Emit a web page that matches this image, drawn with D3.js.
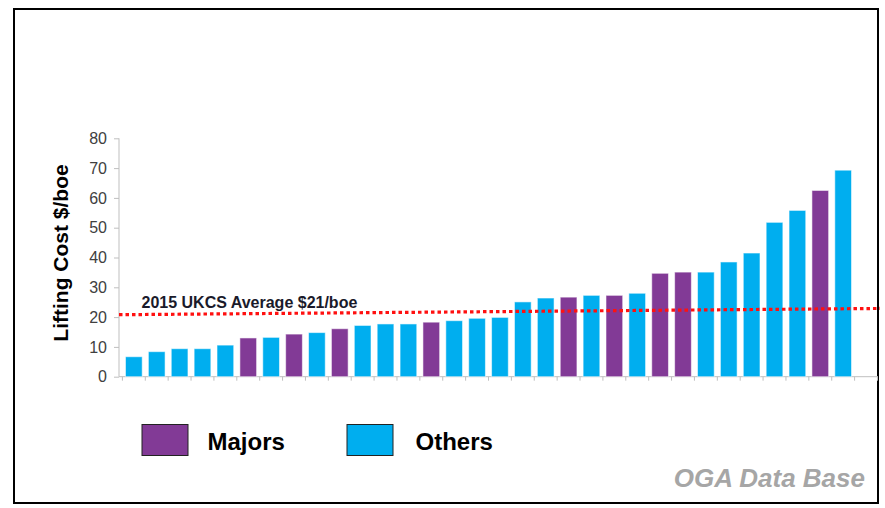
<!DOCTYPE html>
<html>
<head>
<meta charset="utf-8">
<script src="https://cdn.jsdelivr.net/npm/d3@7"></script>
<style>
  html, body { margin: 0; padding: 0; background: #fff; }
  svg { display: block; font-family: "Liberation Sans", Arial, sans-serif; }
</style>
</head>
<body>
<svg id="chart" width="885" height="508"></svg>
<script>
// ---- data ----
const values = [6.7, 8.4, 9.4, 9.4, 10.6, 13.0, 13.2, 14.3, 14.8, 16.1, 17.2, 17.7, 17.7, 18.3, 18.8, 19.6,
                19.9, 25.1, 26.4, 26.7, 27.3, 27.3, 28.0, 34.7, 35.1, 35.1, 38.5, 41.5, 51.8, 55.8, 62.5, 69.3];
const groups = ["Others","Others","Others","Others","Others","Majors","Others","Majors","Others","Majors",
                "Others","Others","Others","Majors","Others","Others","Others","Others","Others","Majors",
                "Others","Majors","Others","Majors","Majors","Others","Others","Others","Others","Others",
                "Majors","Others"];
const yTicks = [0, 10, 20, 30, 40, 50, 60, 70, 80];
const avgLine = [20.8, 22.9];
const legendItems = ["Majors", "Others"];
const colors = { Majors: "#823A96", Others: "#00AEEF" };

const svg = d3.select("#chart");

// frame
svg.append("rect").attr("x", 14).attr("y", 9).attr("width", 864).attr("height", 494)
  .attr("fill", "none").attr("stroke", "#000").attr("stroke-width", 2);

const x = d3.scaleBand().domain(values.map((_, i) => i)).range([122.4, 854.6])
  .paddingInner(0.27).paddingOuter(0.135);
const y = d3.scaleLinear().domain([0, 80]).range([376.7, 138.3]);

const axisX0 = 119;

// y axis
const yAxis = svg.append("g").attr("transform", `translate(${axisX0},0)`)
  .call(d3.axisLeft(y).tickValues(yTicks).tickSize(5).tickPadding(7));
yAxis.select(".domain").attr("stroke", "#bfbfbf").attr("d", `M0,${y(80)}V${y(0)}`);
yAxis.selectAll(".tick line").attr("stroke", "#bfbfbf");
yAxis.selectAll(".tick text").attr("fill", "#404040").style("font-size", "16px")
  .style("font-family", "'Liberation Sans', Arial, sans-serif");

// x axis line + boundary ticks
const step = x.step();
const bounds = values.map((_, i) => x(i) - step * x.paddingInner() / 2);
bounds.push(bounds[bounds.length - 1] + step);
bounds.push(bounds[bounds.length - 1] + step);
svg.append("line").attr("x1", axisX0).attr("x2", 878).attr("y1", y(0)).attr("y2", y(0))
  .attr("stroke", "#bfbfbf").attr("stroke-width", 1);
svg.append("g").selectAll("line").data(bounds).join("line")
  .attr("x1", d => d).attr("x2", d => d).attr("y1", y(0)).attr("y2", y(0) + 4)
  .attr("stroke", "#bfbfbf");

// bars
svg.append("g").selectAll("rect").data(values).join("rect")
  .attr("x", (d, i) => x(i)).attr("width", x.bandwidth())
  .attr("y", d => y(d)).attr("height", d => y(0) - y(d))
  .attr("fill", (d, i) => colors[groups[i]])
  .attr("stroke", "rgba(255,255,255,0.55)").attr("stroke-width", 1);

// average line
svg.append("line").attr("x1", axisX0).attr("x2", 880)
  .attr("y1", y(avgLine[0])).attr("y2", y(avgLine[1]))
  .attr("stroke", "#ff1010").attr("stroke-width", 3.2).attr("stroke-dasharray", "3.5,3");

svg.append("text").attr("x", 141.5).attr("y", 307.5)
  .attr("fill", "#1a1a2a").style("font-size", "16px").style("font-weight", "bold")
  .text("2015 UKCS Average $21/boe");

// y title
svg.append("text").attr("transform", `translate(68,253) rotate(-90)`)
  .attr("text-anchor", "middle").attr("fill", "#000")
  .style("font-size", "21px").style("font-weight", "bold")
  .text("Lifting Cost $/boe");

// legend
const legX = [142, 347];
const leg = svg.append("g").selectAll("g").data(legendItems).join("g")
  .attr("transform", (d, i) => `translate(${legX[i]},424.5)`);
leg.append("rect").attr("width", 46).attr("height", 31)
  .attr("fill", d => colors[d]).attr("stroke", "#222").attr("stroke-width", 1);
leg.append("text").attr("x", (d, i) => i === 0 ? 65.5 : 68.5).attr("y", 25).attr("fill", "#000")
  .style("font-size", "24px").style("font-weight", "bold").text(d => d);

// source
svg.append("text").attr("x", 865).attr("y", 487).attr("text-anchor", "end")
  .attr("fill", "#a6a6a6").style("font-size", "26px").style("font-weight", "bold")
  .style("font-style", "italic").text("OGA Data Base");
</script>
</body>
</html>
